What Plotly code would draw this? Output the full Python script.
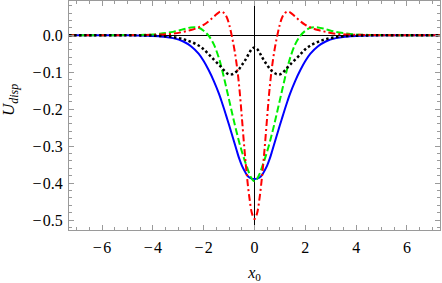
import plotly.graph_objects as go

x0 = [-7.3, -6.0, -5.0, -4.5, -4.0, -3.6, -3.2, -2.8, -2.5, -2.2, -2.0, -1.8, -1.6, -1.4,
      -1.3, -1.2, -1.1, -1.0, -0.9, -0.8, -0.7, -0.6, -0.5, -0.4, -0.3, -0.2, -0.1,
      0.0,
      0.1, 0.2, 0.3, 0.4, 0.5, 0.6, 0.7, 0.8, 0.9, 1.0, 1.1, 1.2, 1.3,
      1.4, 1.6, 1.8, 2.0, 2.2, 2.5, 2.8, 3.2, 3.6, 4.0, 4.5, 5.0, 6.0, 7.3]

u_blue = [0.0, 0.0, -0.0003, -0.0008, -0.002, -0.004, -0.008, -0.017, -0.030, -0.050, -0.070, -0.095, -0.124, -0.158,
          -0.178, -0.199, -0.221, -0.243, -0.266, -0.289, -0.312, -0.334, -0.352, -0.366, -0.378, -0.385, -0.388,
          -0.389,
          -0.388, -0.385, -0.378, -0.366, -0.352, -0.334, -0.312, -0.289, -0.266, -0.243, -0.221, -0.199, -0.178,
          -0.158, -0.124, -0.095, -0.070, -0.050, -0.030, -0.017, -0.008, -0.004, -0.002, -0.0008, -0.0003, 0.0, 0.0]

u_green = [0.0, 0.0, 0.0003, 0.0008, 0.002, 0.005, 0.009, 0.016, 0.021, 0.020, 0.012, -0.002, -0.025, -0.062,
           -0.087, -0.115, -0.145, -0.175, -0.205, -0.235, -0.263, -0.290, -0.314, -0.336, -0.356, -0.375, -0.389,
           -0.395,
           -0.389, -0.375, -0.356, -0.336, -0.314, -0.290, -0.263, -0.235, -0.205, -0.175, -0.145, -0.115, -0.087,
           -0.062, -0.025, -0.002, 0.012, 0.020, 0.021, 0.016, 0.009, 0.005, 0.002, 0.0008, 0.0003, 0.0, 0.0]

u_red = [0.0, 0.0, 0.0001, 0.0004, 0.001, 0.002, 0.004, 0.009, 0.014, 0.021, 0.028, 0.038, 0.050, 0.062,
         0.064, 0.060, 0.050, 0.030, 0.000, -0.035, -0.080, -0.140, -0.220, -0.305, -0.380, -0.440, -0.482,
         -0.497,
         -0.482, -0.440, -0.380, -0.305, -0.220, -0.140, -0.080, -0.035, 0.000, 0.030, 0.050, 0.060, 0.064,
         0.062, 0.050, 0.038, 0.028, 0.021, 0.014, 0.009, 0.004, 0.002, 0.001, 0.0004, 0.0001, 0.0, 0.0]

u_black = [0.0, 0.0, -0.0002, -0.0005, -0.0012, -0.0025, -0.005, -0.011, -0.018, -0.028, -0.038, -0.052, -0.066, -0.080,
           -0.087, -0.095, -0.102, -0.106, -0.106, -0.103, -0.098, -0.091, -0.081, -0.071, -0.060, -0.047, -0.037,
           -0.033,
           -0.037, -0.047, -0.060, -0.071, -0.081, -0.091, -0.098, -0.103, -0.106, -0.106, -0.102, -0.095, -0.087,
           -0.080, -0.066, -0.052, -0.038, -0.028, -0.018, -0.011, -0.005, -0.0025, -0.0012, -0.0005, -0.0002, 0.0, 0.0]

x_alias = {"\u22126": "\u2212\u200a6", "\u22124": "\u2212\u200a4", "\u22122": "\u2212\u200a2"}
y_alias = {"\u22120.%d" % k: "\u2212\u200a0.%d" % k for k in range(1, 6)}

fig = go.Figure()
fig.add_trace(go.Scatter(x=x0, y=u_blue, mode="lines", line=dict(color="#0000ff", width=2), line_shape="spline"))
fig.add_trace(go.Scatter(x=x0, y=u_green, mode="lines", line=dict(color="#00ee00", width=2, dash="7px,3px"), line_shape="spline"))
fig.add_trace(go.Scatter(x=x0, y=u_red, mode="lines", line=dict(color="#ff0000", width=2, dash="7px,3px,2px,3px"), line_shape="spline"))
fig.add_trace(go.Scatter(x=x0, y=u_black, mode="lines", line=dict(color="#000000", width=2.5, dash="2.5px,2.5px"), line_shape="spline"))

frame = "#9a9a9a"
tfont = dict(family="Liberation Serif", size=16, color="black")
fig.update_layout(
    width=442, height=283,
    margin=dict(l=69, r=2, t=1, b=53, autoexpand=False),
    paper_bgcolor="white", plot_bgcolor="white",
    showlegend=False,
    font=tfont,
)
fig.update_xaxes(
    range=[-7.3, 7.3], tickmode="linear", tick0=0, dtick=2, labelalias=x_alias,
    ticks="inside", ticklen=5, tickcolor=frame, tickwidth=1,
    showline=True, linecolor=frame, linewidth=1, mirror="ticks",
    showgrid=False, zeroline=True, zerolinecolor="black", zerolinewidth=1,
    minor=dict(tick0=0, dtick=0.5, ticks="inside", ticklen=3, tickcolor=frame, showgrid=False),
    tickfont=tfont, ticklabelstandoff=3, automargin=False,
    title=dict(text="<i>x</i><sub>0</sub>", font=dict(family="Liberation Serif", size=16), standoff=12),
)
fig.update_yaxes(
    range=[-0.527, 0.0925], tickmode="linear", tick0=0, dtick=0.1, tickformat=".1f", labelalias=y_alias,
    ticks="inside", ticklen=5, tickcolor=frame, tickwidth=1,
    showline=True, linecolor=frame, linewidth=1, mirror="ticks",
    showgrid=False, zeroline=True, zerolinecolor="black", zerolinewidth=1,
    minor=dict(tick0=0, dtick=0.02, ticks="inside", ticklen=3, tickcolor=frame, showgrid=False),
    tickfont=tfont, ticklabelstandoff=2, automargin=False,
)
fig.add_annotation(
    text="<i>U</i><sub><i>disp</i></sub>", textangle=-90,
    xref="paper", yref="paper", x=0, y=0.568, xshift=-59,
    xanchor="center", yanchor="middle", showarrow=False,
    font=dict(family="Liberation Serif", size=17, color="black"),
)

fig.write_html("out.html", post_script="document.body.style.margin='0';",
               config={"displayModeBar": False})
